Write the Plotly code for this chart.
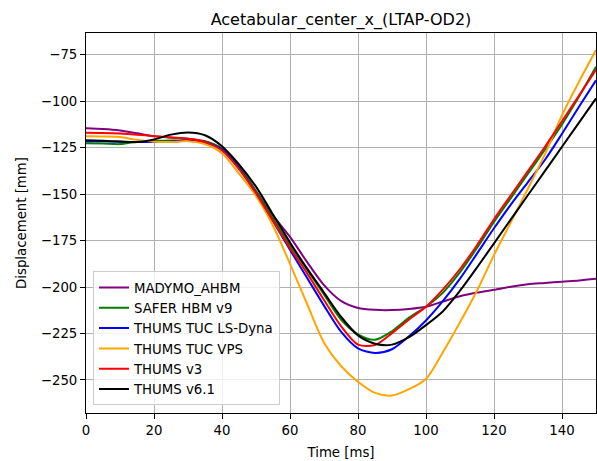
import plotly.graph_objects as go

# Time axis (ms)
time_ms = [0, 5, 10, 15, 20, 25, 30, 35, 40, 45, 50, 55, 60, 65, 70, 75, 80, 85, 90, 95,
           100, 105, 110, 115, 120, 125, 130, 135, 140, 145, 150]

# Displacement series (mm)
madymo_ahbm = [-114.6, -115.0, -115.8, -117.3, -118.8, -119.6, -120.2, -121.5, -125.5, -135.0,
               -148.5, -161.5, -173.0, -186.5, -199.0, -207.5, -211.3, -212.3, -212.4, -211.8,
               -210.6, -207.8, -205.0, -203.0, -201.5, -199.8, -198.5, -197.8, -197.1, -196.5, -195.6]
safer_hbm_v9 = [-122.6, -122.8, -123.1, -121.8, -121.3, -121.2, -121.0, -121.8, -125.5, -135.0,
                -148.5, -163.0, -177.5, -190.5, -204.0, -217.5, -225.5, -228.4, -223.8, -216.5,
                -210.6, -203.0, -192.0, -179.0, -165.0, -152.0, -139.0, -126.0, -112.5, -97.5, -81.5]
thums_tuc_lsdyna = [-121.5, -121.6, -121.8, -122.0, -122.0, -121.8, -121.2, -122.3, -126.0, -136.0,
                    -149.5, -164.5, -180.0, -195.0, -210.0, -224.0, -233.0, -235.5, -233.5, -226.5,
                    -218.0, -207.5, -195.5, -182.0, -168.4, -155.5, -143.5, -131.5, -117.5, -103.0, -88.8]
thums_tuc_vps = [-118.8, -119.0, -119.3, -120.8, -121.8, -122.0, -121.5, -123.0, -128.0, -139.0,
                 -151.0, -167.0, -187.5, -209.0, -230.0, -242.5, -251.0, -257.0, -258.4, -255.0,
                 -249.5, -235.0, -219.0, -202.0, -182.8, -165.0, -147.0, -128.5, -107.5, -89.5, -72.5]
thums_v3 = [-117.0, -117.1, -117.4, -118.0, -118.8, -119.5, -120.2, -122.0, -126.5, -136.5,
            -149.5, -164.5, -179.0, -192.5, -207.0, -221.0, -231.0, -231.2, -224.8, -217.5,
            -210.6, -201.3, -190.3, -177.5, -163.5, -150.5, -137.5, -124.5, -110.8, -97.0, -83.0]
thums_v61 = [-121.0, -121.3, -121.7, -122.0, -120.6, -118.0, -116.8, -118.3, -124.2, -134.0,
             -146.0, -161.0, -176.0, -190.0, -203.0, -216.0, -226.0, -230.5, -231.0, -227.0,
             -220.5, -213.0, -202.0, -189.5, -176.5, -163.5, -150.5, -137.5, -124.5, -111.5, -98.5]

series_names = ["MADYMO_AHBM", "SAFER HBM v9", "THUMS TUC LS-Dyna", "THUMS TUC VPS", "THUMS v3", "THUMS v6.1"]
series_values = [madymo_ahbm, safer_hbm_v9, thums_tuc_lsdyna, thums_tuc_vps, thums_v3, thums_v61]
series_colors = ["#800080", "#008000", "#0000ff", "#ffa500", "#ff0000", "#000000"]

x_ticks = [0, 20, 40, 60, 80, 100, 120, 140]
y_ticks = [-250, -225, -200, -175, -150, -125, -100, -75]

FONT = "DejaVu Sans"

fig = go.Figure()
for name, vals, col in zip(series_names, series_values, series_colors):
    fig.add_trace(go.Scatter(
        x=time_ms, y=vals, mode="lines", name=name, legendgroup=name,
        line=dict(color=col, width=2, shape="spline", smoothing=0.8),
    ))

axis_common = dict(
    showgrid=True, gridcolor="#b0b0b0", gridwidth=1,
    showline=True, linecolor="black", linewidth=1, mirror=True,
    ticks="outside", ticklen=5, tickcolor="black", tickwidth=1,
    tickfont=dict(family=FONT, size=13.3, color="black"),
    zeroline=False,
)

fig.update_layout(
    width=597, height=461,
    margin=dict(l=86, r=1, t=33, b=48),
    paper_bgcolor="white", plot_bgcolor="white",
    font=dict(family=FONT, size=13.3, color="black"),
    title=dict(text="Acetabular_center_x_(LTAP-OD2)", x=0.5, xref="paper",
               y=1 - 19 / 461, yref="container", yanchor="middle",
               font=dict(family=FONT, size=16, color="black")),
    xaxis=dict(range=[0, 150], tickvals=x_ticks,
               title=dict(text="Time [ms]", font=dict(family=FONT, size=13.3, color="black"), standoff=10),
               **axis_common),
    yaxis=dict(range=[-267.8, -63.3], tickvals=y_ticks,
               title=dict(text="Displacement [mm]", font=dict(family=FONT, size=13.3, color="black"), standoff=11),
               **axis_common),
    legend=dict(x=0.0137, y=0.02, xanchor="left", yanchor="bottom",
                bgcolor="rgba(255,255,255,0.8)", bordercolor="#cccccc", borderwidth=1,
                font=dict(family=FONT, size=13.3, color="black"),
                tracegroupgap=0, itemwidth=30),
    showlegend=True,
)

fig.write_html("out.html")
